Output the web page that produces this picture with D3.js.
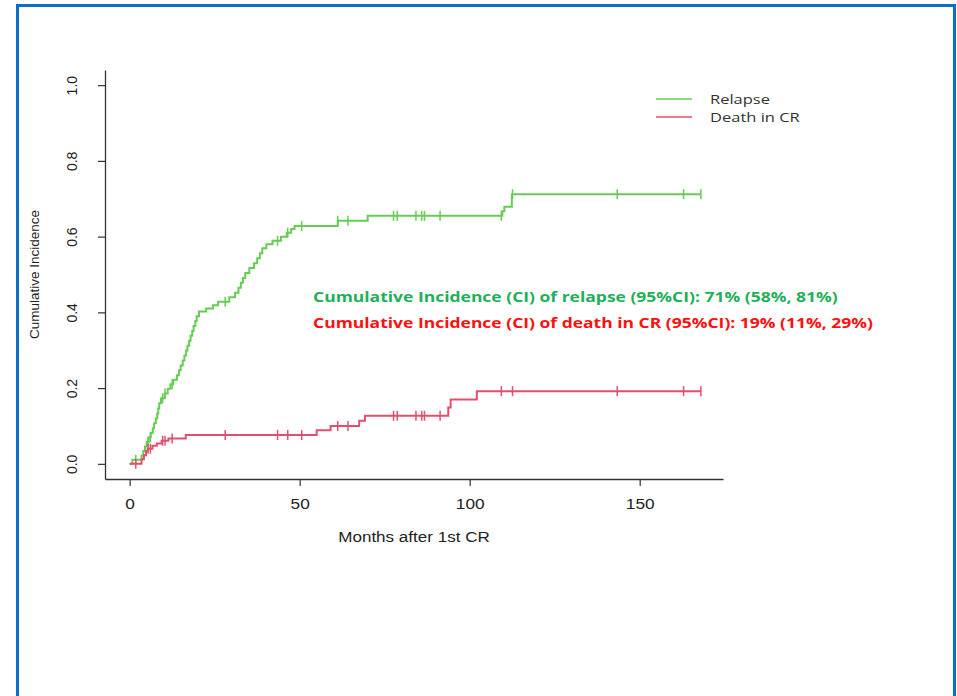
<!DOCTYPE html>
<html>
<head>
<meta charset="utf-8">
<script src="https://cdn.jsdelivr.net/npm/d3@7"></script>
<style>
  body { margin: 0; background: #fff; }
  svg { display: block; }
</style>
</head>
<body>
<div id="chart"></div>
<script>
// event times (months) and cumulative incidence after each step
const relapseTimes = [0, 0.8, 3.5, 4.0, 4.5, 5.0, 5.6, 6.2, 6.8, 7.2, 7.7, 8.1, 8.4, 8.7, 9.2, 10.3, 11.2, 12.0, 12.8,
  13.9, 14.5, 15.0, 15.6, 16.1, 16.6, 17.0, 17.5, 17.9, 18.4, 18.8, 19.3, 19.7, 20.4, 22.5, 24.5, 26.0, 29.3, 31.0,
  32.0, 32.7, 33.3, 34.0, 35.2, 36.6, 37.5, 38.3, 39.0, 40.2, 42.0, 44.5, 46.2, 47.5, 48.5, 61.2, 70.0, 109.6,
  110.2, 112.4];
const relapseCI = [0, 0.011, 0.022, 0.034, 0.046, 0.058, 0.070, 0.082, 0.094, 0.107, 0.120, 0.133, 0.146, 0.160,
  0.173, 0.186, 0.198, 0.210, 0.222, 0.234, 0.247, 0.260, 0.273, 0.286, 0.299, 0.312, 0.325, 0.338, 0.351, 0.364,
  0.377, 0.390, 0.402, 0.410, 0.419, 0.428, 0.440, 0.452, 0.465, 0.478, 0.491, 0.504, 0.517, 0.530, 0.543, 0.556,
  0.569, 0.580, 0.589, 0.600, 0.610, 0.620, 0.628, 0.642, 0.655, 0.667, 0.679, 0.712];

const deathTimes = [0, 3.5, 4.2, 4.8, 5.3, 6.7, 8.0, 9.4, 11.4, 16.5, 55.0, 59.1, 67.5, 69.2, 93.7, 94.4, 102.1];
const deathCI = [0, 0.012, 0.023, 0.034, 0.040, 0.048, 0.054, 0.061, 0.067, 0.076, 0.089, 0.100, 0.114, 0.127,
  0.149, 0.170, 0.192];

// censored observations (shared by both curves)
const censorTimes = [1.8, 5.4, 6.1, 9.7, 10.4, 12.5, 28.1, 43.5, 46.5, 50.6, 61.2, 64.2, 77.6, 78.7, 84.2, 85.9,
  86.7, 91.3, 109.3, 112.6, 143.4, 162.9, 168];
const lastTime = 168;

const xTicks = [0, 50, 100, 150];
const yTicks = [0, 0.2, 0.4, 0.6, 0.8, 1.0];

const seriesNames = ['Relapse', 'Death in CR'];
const seriesColors = ['#66cc55', '#e0506e'];
const notes = [
  { text: 'Cumulative Incidence (CI) of relapse (95%CI): 71% (58%, 81%)', color: '#1fb05a' },
  { text: 'Cumulative Incidence (CI) of death in CR (95%CI): 19% (11%, 29%)', color: '#ff1010' },
];

const width = 957;
const height = 696;

const svg = d3.select('#chart').append('svg').attr('width', width).attr('height', height);

// blue frame
svg
  .append('rect')
  .attr('x', 17.5)
  .attr('y', 5.5)
  .attr('width', 937)
  .attr('height', 710)
  .attr('fill', 'none')
  .attr('stroke', '#0b6fc4')
  .attr('stroke-width', 3);

const x = d3.scaleLinear().domain([-7.25, 174.5]).range([105, 723]);
const y = d3.scaleLinear().domain([-0.04, 1.04]).range([479, 70]);

const axisFont = "'Liberation Sans', Arial, sans-serif";

// x axis
const gx = svg
  .append('g')
  .attr('transform', `translate(0,${y(-0.04)})`)
  .call(d3.axisBottom(x).tickValues(xTicks).tickSize(7).tickSizeOuter(0).tickPadding(12).tickFormat(d3.format('d')));
gx.select('.domain').attr('stroke', '#333').attr('stroke-width', 1.3);
gx.selectAll('.tick line').attr('stroke', '#333').attr('stroke-width', 1.2);
gx.selectAll('.tick text')
  .attr('font-family', axisFont)
  .attr('font-size', 15)
  .attr('fill', '#222')
  .attr('transform', 'scale(1.15,1)');

// y axis
const gy = svg
  .append('g')
  .attr('transform', `translate(${x(-7.25)},0)`)
  .call(d3.axisLeft(y).tickValues(yTicks).tickSize(7).tickSizeOuter(0).tickFormat(d3.format('.1f')));
gy.select('.domain').attr('stroke', '#333').attr('stroke-width', 1.3);
gy.selectAll('.tick line').attr('stroke', '#333').attr('stroke-width', 1.2);
gy.selectAll('.tick text')
  .attr('font-family', axisFont)
  .attr('font-size', 14)
  .attr('fill', '#222')
  .attr('x', 0)
  .attr('dy', 0)
  .attr('text-anchor', 'middle')
  .attr('transform', 'translate(-33,0) rotate(-90)')
  .attr('dominant-baseline', 'central');

svg
  .append('text')
  .attr('transform', `translate(34,${(y(0) + y(1)) / 2}) rotate(-90)`)
  .attr('text-anchor', 'middle')
  .attr('dominant-baseline', 'central')
  .attr('font-family', axisFont)
  .attr('font-size', 13.5)
  .attr('fill', '#222')
  .text('Cumulative Incidence');

svg
  .append('text')
  .attr('transform', 'translate(414,542) scale(1.1,1)')
  .attr('text-anchor', 'middle')
  .attr('font-family', axisFont)
  .attr('font-size', 15.5)
  .attr('fill', '#222')
  .text('Months after 1st CR');

// step curves
const curves = [
  { times: relapseTimes, values: relapseCI, color: seriesColors[0] },
  { times: deathTimes, values: deathCI, color: seriesColors[1] },
];

const line = d3
  .line()
  .x((d) => x(d[0]))
  .y((d) => y(d[1]))
  .curve(d3.curveStepAfter);

curves.forEach((c) => {
  const pts = c.times.map((t, i) => [t, c.values[i]]);
  pts.push([lastTime, c.values[c.values.length - 1]]);

  svg
    .append('path')
    .datum(pts)
    .attr('d', line)
    .attr('fill', 'none')
    .attr('stroke', c.color)
    .attr('stroke-width', 2);

  const valueAt = (t) => c.values[d3.bisectRight(c.times, t) - 1];

  svg
    .append('g')
    .selectAll('line')
    .data(censorTimes)
    .join('line')
    .attr('x1', (t) => x(t))
    .attr('x2', (t) => x(t))
    .attr('y1', (t) => y(valueAt(t)) - 5)
    .attr('y2', (t) => y(valueAt(t)) + 5)
    .attr('stroke', c.color)
    .attr('stroke-width', 1.5);
});

// legend
const legend = svg.append('g').attr('transform', 'translate(656,99)');
seriesNames.forEach((name, i) => {
  const row = legend.append('g').attr('transform', `translate(0,${i * 18})`);
  row
    .append('line')
    .attr('x1', 0)
    .attr('x2', 36)
    .attr('stroke', seriesColors[i])
    .attr('stroke-width', 1.5);
  row
    .append('text')
    .attr('transform', 'translate(54,0) scale(1.27,1)')
    .attr('dy', '0.35em')
    .attr('font-family', "'Open Sans', sans-serif")
    .attr('font-size', 13)
    .attr('fill', '#333')
    .text(name);
});

// annotations
notes.forEach((n, i) => {
  svg
    .append('text')
    .attr('transform', `translate(313,${302 + i * 26}) scale(1.25,1)`)
    .attr('font-family', "'Open Sans', sans-serif")
    .attr('font-weight', 'bold')
    .attr('font-size', 14)
    .attr('fill', n.color)
    .text(n.text);
});
</script>
</body>
</html>
